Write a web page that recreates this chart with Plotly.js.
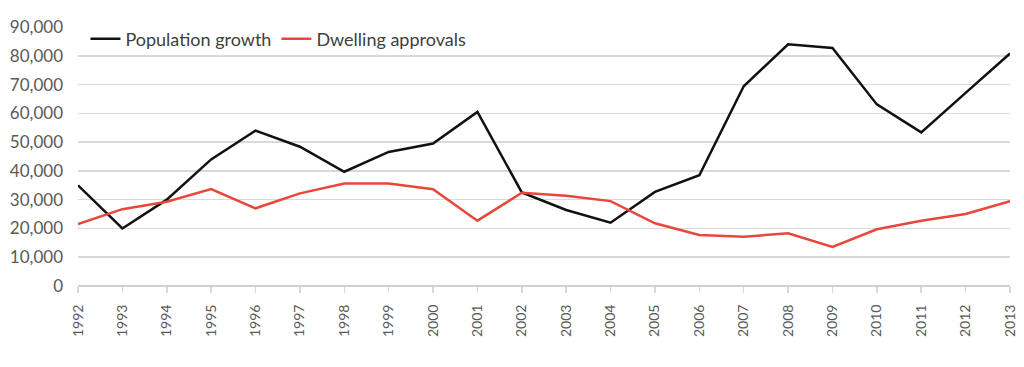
<!DOCTYPE html>
<html>
<head>
<meta charset="utf-8">
<script src="https://cdn.plot.ly/plotly-3.0.1.min.js"></script>
<style>html,body{margin:0;padding:0;background:#fff;}#chart{width:1024px;height:367px;}</style>
</head>
<body>
<div id="chart"></div>
<script>
const years = ['1992','1993','1994','1995','1996','1997','1998','1999','2000','2001','2002','2003','2004','2005','2006','2007','2008','2009','2010','2011','2012','2013'];
const populationGrowth = [35000,20000,30000,44000,54000,48400,39700,46600,49500,60500,32500,26400,22000,32700,38500,69400,84000,82700,63100,53400,67100,80800];
const dwellingApprovals = [21500,26700,29300,33700,27000,32200,35600,35600,33600,22700,32400,31400,29500,21800,17700,17100,18300,13600,19700,22700,25000,29500];
const yTicks = [0,10000,20000,30000,40000,50000,60000,70000,80000,90000];
const yTickText = ['0','10,000','20,000','30,000','40,000','50,000','60,000','70,000','80,000','90,000'];

const traces = [
  {x: years, y: populationGrowth, type: 'scatter', mode: 'lines', name: 'Population growth',
   line: {color: '#111111', width: 2.5}},
  {x: years, y: dwellingApprovals, type: 'scatter', mode: 'lines', name: 'Dwelling approvals',
   line: {color: '#e8473a', width: 2.5}}
];
const layout = {
  width: 1024, height: 367,
  margin: {l: 78, r: 14, t: 27, b: 81},
  paper_bgcolor: '#fff', plot_bgcolor: '#fff',
  font: {family: 'Lato, "Liberation Sans", sans-serif', color: '#595959', size: 14},
  showlegend: true,
  legend: {orientation: 'h', x: 0.008, y: 1.025, xanchor: 'left', yanchor: 'top',
           font: {size: 18, color: '#404040'}, bgcolor: 'rgba(255,255,255,0)', itemwidth: 30,
           tracegroupgap: 0},
  xaxis: {type: 'category', range: [0, years.length - 1], showgrid: false,
          ticks: 'outside', ticklen: 6, tickcolor: '#d9d9d9', tickwidth: 1.5,
          showline: false, tickangle: -90, tickfont: {size: 14, color: '#595959'},
          ticklabelstandoff: 6, zeroline: false},
  yaxis: {range: [0, 90000], tickvals: yTicks, ticktext: yTickText,
          showgrid: true, gridcolor: '#d9d9d9', gridwidth: 1.5,
          zeroline: true, zerolinecolor: '#d0d0d0', zerolinewidth: 1.5,
          ticks: '', tickfont: {size: 17, color: '#595959'}, ticklabelstandoff: 14,
          showline: false}
};
Plotly.newPlot('chart', traces, layout, {displayModeBar: false, staticPlot: true});
</script>
</body>
</html>
